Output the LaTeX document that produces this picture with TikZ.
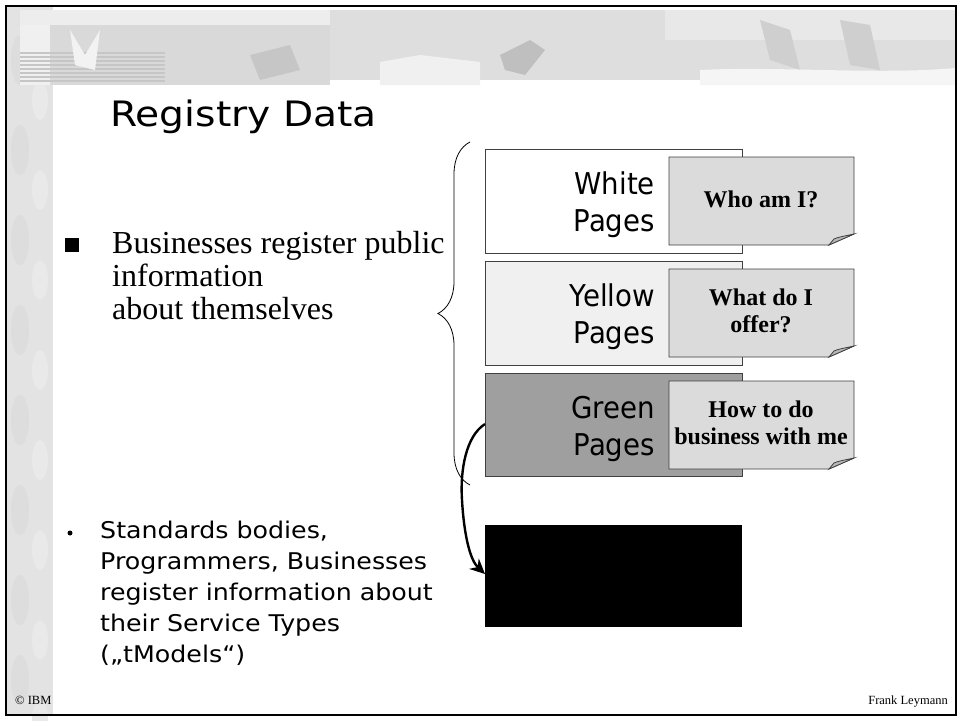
\documentclass[tikz,border=0pt]{standalone}
\usepackage{fontspec}
\setmainfont{Liberation Serif}
\newfontfamily\comic[FakeStretch=1.1]{DejaVu Sans}
\newfontfamily\comictitle[FakeStretch=1.12]{DejaVu Sans}
\newfontfamily\labelfont[FakeStretch=0.92]{DejaVu Sans}
\usetikzlibrary{arrows.meta,decorations.pathreplacing}
\begin{document}
\begin{tikzpicture}[x=1pt,y=-1pt,
  pagebox/.style={draw=black!75,line width=0.8pt},
  notebox/.style={draw=black!75,line width=0.8pt,fill=gray!28},
  pagelabel/.style={font=\labelfont\fontsize{30}{37}\selectfont,align=right,anchor=north east,inner sep=0pt},
  notetext/.style={font=\bfseries\fontsize{24}{27}\selectfont,align=center,inner sep=0pt},
  comictext/.style={font=\comic\fontsize{23}{31}\selectfont,align=left,anchor=north west,inner sep=0pt},
  smalltext/.style={font=\fontsize{12.5}{14}\selectfont,inner sep=0pt}]
\useasboundingbox (0,0) rectangle (960,720);
\fill[white] (0,0) rectangle (960,720);
% left texture strip
\fill[gray!22] (7,7) rectangle (53,714);
\foreach \y in {60,150,240,330,420,510,600,680}{
  \fill[gray!27] (20,\y) ellipse (9 and 25);
  \fill[gray!17] (40,\y+40) ellipse (8 and 20);
}
% banner
\fill[gray!14] (20,10) rectangle (330,25);
\fill[gray!30] (50,25) rectangle (330,85);
\fill[gray!26] (330,10) rectangle (955,80);
\fill[gray!18] (665,10) rectangle (955,40);
\fill[gray!12] (20,25) rectangle (50,85);
\foreach \y in {52,56,60,64,68,72,76,80}{
  \fill[gray!45] (20,\y) rectangle (165,\y+1.5);
}
\fill[gray!10] (70,30) -- (85,55) -- (100,30) -- (95,70) -- (75,65) -- cycle;
\fill[gray!45] (250,55) -- (290,45) -- (300,70) -- (260,80) -- cycle;
\fill[gray!50] (500,55) -- (530,40) -- (545,50) -- (525,75) -- (505,70) -- cycle;
\fill[gray!38] (760,20) -- (790,30) -- (800,70) -- (770,60) -- cycle;
\fill[gray!38] (840,20) -- (870,25) -- (880,70) -- (850,65) -- cycle;
\fill[gray!12] (380,62) -- (420,55) -- (480,62) -- (480,85) -- (380,85) -- cycle;
\fill[gray!8] (700,70) .. controls (780,66) and (880,75) .. (955,68) -- (955,85) -- (700,85) -- cycle;
% frame
\draw[line width=2pt] (6,6) rectangle (956,715);
% title
\node[font=\comictitle\fontsize{35}{40}\selectfont,anchor=base west,inner sep=0pt] (title) at (110,126) {Registry Data};
% first bullet
\node[fill=black,minimum size=14pt,inner sep=0pt] (b1) at (72,245) {};
\node[font=\fontsize{32}{33}\selectfont,align=left,anchor=north west,inner sep=0pt] (t1) at (112,231)
  {Businesses register public\\information\\about themselves};
% brace
\coordinate (brtop) at (470,142);
\coordinate (brbot) at (470,485);
\draw[line width=0.8pt,decorate,decoration={brace,amplitude=32pt,aspect=0.5}] (brbot) -- (brtop);
% page boxes
\draw[pagebox,fill=white] (485,149) rectangle (742,253);
\draw[pagebox,fill=gray!12] (485,261) rectangle (742,365);
\draw[pagebox,fill=gray!75] (485,373) rectangle (742,476);
\node[pagelabel] (wp) at (655,172) {White\\Pages};
\node[pagelabel] (yp) at (655,284) {Yellow\\Pages};
\node[pagelabel] (gp) at (655,396) {Green\\Pages};
% notes with folded corners
\foreach \yt/\yb/\nm in {157/245/n1,269/357/n2,381/469/n3}{
  \draw[notebox] (669,\yt) -- (854,\yt) -- (854,\yb-11) -- (829,\yb) -- (669,\yb) -- cycle;
  \draw[notebox,fill=gray!55] (854,\yb-11) .. controls (845,\yb-9) and (838,\yb-8) .. (834,\yb-6) -- (829,\yb) -- cycle;
}
\node[notetext] (q1) at (761,199) {Who am I?};
\node[notetext] (q2) at (761,311) {What do I\\offer?};
\node[notetext] (q3) at (761,423) {How to do\\business with me};
% black box
\node[fill=black,minimum width=257pt,minimum height=102pt,inner sep=0pt,anchor=north west] (tm) at (485,525) {};
% curved arrow
\coordinate (gstart) at (485,424);
\coordinate (tend) at (485,574);
\draw[line width=2.4pt,-{Stealth[length=15pt,width=14pt]}] (gstart) .. controls (466,436) and (460,470) .. (462,500) .. controls (464,535) and (470,560) .. (tend);
% second bullet
\node[fill=black,circle,minimum size=5pt,inner sep=0pt] (b2) at (70,533) {};
\node[comictext] (t2) at (100,521)
  {Standards bodies,\\Programmers, Businesses\\register information about\\their Service Types\\(„tModels“)};
% footer
\node[smalltext,anchor=base west] (ibm) at (15,704) {© IBM};
\node[smalltext,anchor=base east] (fl) at (948,704) {Frank Leymann};
\end{tikzpicture}
\end{document}
